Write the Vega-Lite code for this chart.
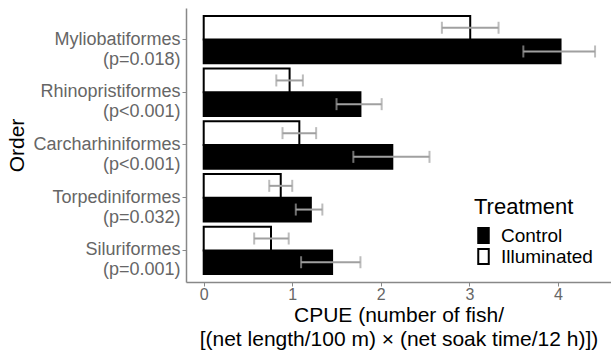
{
  "$schema": "https://vega.github.io/schema/vega-lite/v6.json",
  "width": 425,
  "height": 274,
  "autosize": {"type": "none"},
  "padding": {"left": 186, "top": 8, "right": 0, "bottom": 70},
  "background": "white",
  "config": {
    "view": {"stroke": null},
    "font": "Liberation Sans",
    "axis": {"grid": false}
  },
  "data": {
    "values": [
      {"order": "Myliobatiformes|(p=0.018)", "treatment": "Control", "cpue": 4.03, "lo": 3.61, "hi": 4.42},
      {"order": "Myliobatiformes|(p=0.018)", "treatment": "Illuminated", "cpue": 3.01, "lo": 2.69, "hi": 3.33},
      {"order": "Rhinopristiformes|(p<0.001)", "treatment": "Control", "cpue": 1.77, "lo": 1.5, "hi": 2.01},
      {"order": "Rhinopristiformes|(p<0.001)", "treatment": "Illuminated", "cpue": 0.97, "lo": 0.82, "hi": 1.12},
      {"order": "Carcharhiniformes|(p<0.001)", "treatment": "Control", "cpue": 2.13, "lo": 1.69, "hi": 2.55},
      {"order": "Carcharhiniformes|(p<0.001)", "treatment": "Illuminated", "cpue": 1.08, "lo": 0.89, "hi": 1.27},
      {"order": "Torpediniformes|(p=0.032)", "treatment": "Control", "cpue": 1.21, "lo": 1.04, "hi": 1.34},
      {"order": "Torpediniformes|(p=0.032)", "treatment": "Illuminated", "cpue": 0.87, "lo": 0.74, "hi": 1.0},
      {"order": "Siluriformes|(p=0.001)", "treatment": "Control", "cpue": 1.45, "lo": 1.1, "hi": 1.77},
      {"order": "Siluriformes|(p=0.001)", "treatment": "Illuminated", "cpue": 0.76, "lo": 0.57, "hi": 0.96}
    ]
  },
  "encoding": {
    "y": {
      "field": "order",
      "type": "nominal",
      "sort": ["Myliobatiformes|(p=0.018)", "Rhinopristiformes|(p<0.001)", "Carcharhiniformes|(p<0.001)", "Torpediniformes|(p=0.032)", "Siluriformes|(p=0.001)"],
      "scale": {"paddingInner": 0.1, "paddingOuter": 0.15},
      "axis": {
        "title": "Order",
        "titleFontSize": 21,
        "titleFontWeight": "normal",
        "titleColor": "#000000",
        "titlePadding": 5,
        "labelExpr": "split(datum.label, '|')",
        "labelFontSize": 18,
        "labelLineHeight": 20,
        "labelColor": "#666666",
        "labelPadding": 2,
        "domainColor": "#888888",
        "domainWidth": 1.5,
        "tickColor": "#888888",
        "tickSize": 4
      }
    },
    "yOffset": {
      "field": "treatment",
      "type": "nominal",
      "sort": ["Illuminated", "Control"],
      "scale": {"paddingInner": 0, "paddingOuter": 0}
    }
  },
  "layer": [
    {
      "mark": {"type": "bar", "strokeWidth": 2, "stroke": "#000000"},
      "encoding": {
        "x": {
          "field": "cpue",
          "type": "quantitative",
          "scale": {"domain": [-0.2, 4.6], "nice": false, "zero": false},
          "axis": {
            "values": [0, 1, 2, 3, 4],
            "format": "d",
            "title": ["CPUE (number of fish/", "[(net length/100 m) × (net soak time/12 h)])"],
            "titleFontSize": 21,
            "titleFontWeight": "normal",
            "titleColor": "#000000",
            "titleLineHeight": 24,
            "titlePadding": 2,
            "labelFontSize": 16,
            "labelColor": "#666666",
            "labelPadding": 0,
            "domainColor": "#888888",
            "domainWidth": 1.5,
            "tickColor": "#888888",
            "tickSize": 4
          }
        },
        "x2": {"datum": 0},
        "fill": {
          "field": "treatment",
          "type": "nominal",
          "scale": {"domain": ["Control", "Illuminated"], "range": ["#000000", "#ffffff"]},
          "legend": {
            "orient": "none",
            "legendX": 288,
            "legendY": 189,
            "title": "Treatment",
            "titleFontSize": 22,
            "titleFontWeight": "normal",
            "titleColor": "#000000",
            "titlePadding": 7,
            "labelFontSize": 19,
            "labelColor": "#000000",
            "labelOffset": 8,
            "symbolType": "M-0.7,-1H0.7V1H-0.7Z",
            "symbolSize": 225,
            "symbolStrokeColor": "#000000",
            "symbolStrokeWidth": 2,
            "rowPadding": -5
          }
        }
      }
    },
    {
      "mark": {"type": "rule", "color": "#a0a0a0", "strokeWidth": 2},
      "encoding": {
        "x": {"field": "lo", "type": "quantitative"},
        "x2": {"field": "hi"}
      }
    },
    {
      "mark": {"type": "tick", "color": "#a0a0a0", "thickness": 2, "size": 12},
      "encoding": {
        "x": {"field": "lo", "type": "quantitative"}
      }
    },
    {
      "mark": {"type": "tick", "color": "#a0a0a0", "thickness": 2, "size": 12},
      "encoding": {
        "x": {"field": "hi", "type": "quantitative"}
      }
    }
  ]
}
